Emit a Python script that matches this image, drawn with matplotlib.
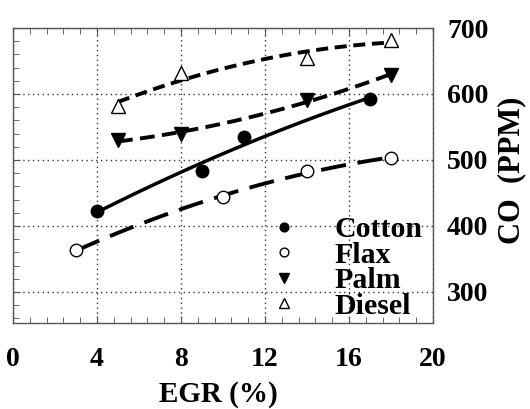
import numpy as np
import matplotlib
matplotlib.use("Agg")
import matplotlib.pyplot as plt
from matplotlib.ticker import MultipleLocator

plt.rcParams["font.family"] = ["Liberation Serif", "DejaVu Serif"]
plt.rcParams["font.weight"] = "bold"

# EGR rate (%) and CO emission (ppm) for each fuel
cotton_x = [4, 9, 11, 17]
cotton_y = [423, 483, 535, 593]
flax_x = [3, 10, 14, 18]
flax_y = [363, 444, 483, 503]
palm_x = [5, 8, 14, 18]
palm_y = [530, 539, 591, 629]
diesel_x = [5, 8, 14, 18]
diesel_y = [582, 632, 655, 682]

x_ticks = [0, 4, 8, 12, 16, 20]
y_ticks = [300, 400, 500, 600, 700]

fig = plt.figure(figsize=(5.30, 4.09), dpi=100)
ax = fig.add_axes([13 / 530, 1 - 323 / 409, 420 / 530, 295 / 409])

series = [
    ("Cotton", cotton_x, cotton_y, dict(marker="o", mfc="black", ms=9), None, 2.5),
    ("Flax", flax_x, flax_y, dict(marker="o", mfc="white", ms=9), (6.5, 3.0), 2.8),
    ("Palm", palm_x, palm_y, dict(marker="v", mfc="black", ms=10), (3.8, 1.9), 2.8),
    ("Diesel", diesel_x, diesel_y, dict(marker="^", mfc="white", ms=10), (3.1, 1.7), 2.8),
]

for name, xs, ys, mk, dash, lw in series:
    xs = np.asarray(xs, float)
    ys = np.asarray(ys, float)
    # second-order trend line through each fuel's measurements
    coef = np.polyfit(xs, ys, 2)
    xf = np.linspace(xs.min(), xs.max(), 100)
    line, = ax.plot(xf, np.polyval(coef, xf), color="black", lw=lw, zorder=2)
    if dash is not None:
        line.set_dashes(dash)
    ax.plot(xs, ys, linestyle="none", color="black", mec="black", mew=1.0,
            label=name, zorder=3, **mk)

ax.set_xlim(0, 20)
ax.set_ylim(253, 700)
ax.set_xticks(x_ticks)
ax.set_yticks(y_ticks)
ax.xaxis.set_minor_locator(MultipleLocator(0.8))
ax.yaxis.set_minor_locator(MultipleLocator(20))

ax.grid(True, which="major", linestyle=(0, (1, 2.5)), color="#333333", lw=1.0)
ax.set_axisbelow(True)

for s in ax.spines.values():
    s.set_color("#555555")
    s.set_linewidth(1.0)

ax.tick_params(axis="x", which="both", direction="in", top=True, bottom=True,
               labelsize=20, pad=17, color="#555555")
ax.tick_params(axis="x", which="major", length=5)
ax.tick_params(axis="x", which="minor", length=4)
ax.tick_params(axis="y", which="both", direction="in", left=True, right=False,
               labelleft=False, labelright=True, labelsize=20, pad=10,
               color="#555555")
ax.tick_params(axis="y", which="major", length=5)
ax.tick_params(axis="y", which="minor", length=4)
for t in ax.get_xticklabels() + ax.get_yticklabels():
    t.set_fontweight("bold")

fig.text(218 / 530, 1 - 394 / 409, "EGR (%)", ha="center", va="center",
         fontsize=21, fontweight="bold")
fig.text(512 / 530, 1 - 170 / 409, "CO  (PPM)", ha="center", va="center",
         rotation=90, fontsize=22, fontweight="bold")

leg = ax.legend(loc="upper left", bbox_to_anchor=(269 / 530, 1 - 216 / 409),
                bbox_transform=fig.transFigure, frameon=False,
                prop=dict(size=21.5, weight="bold"), markerscale=0.7,
                handlelength=1.0, handletextpad=1.2, labelspacing=-0.05,
                borderpad=0, borderaxespad=0)

fig.savefig("out.png", dpi=100)
